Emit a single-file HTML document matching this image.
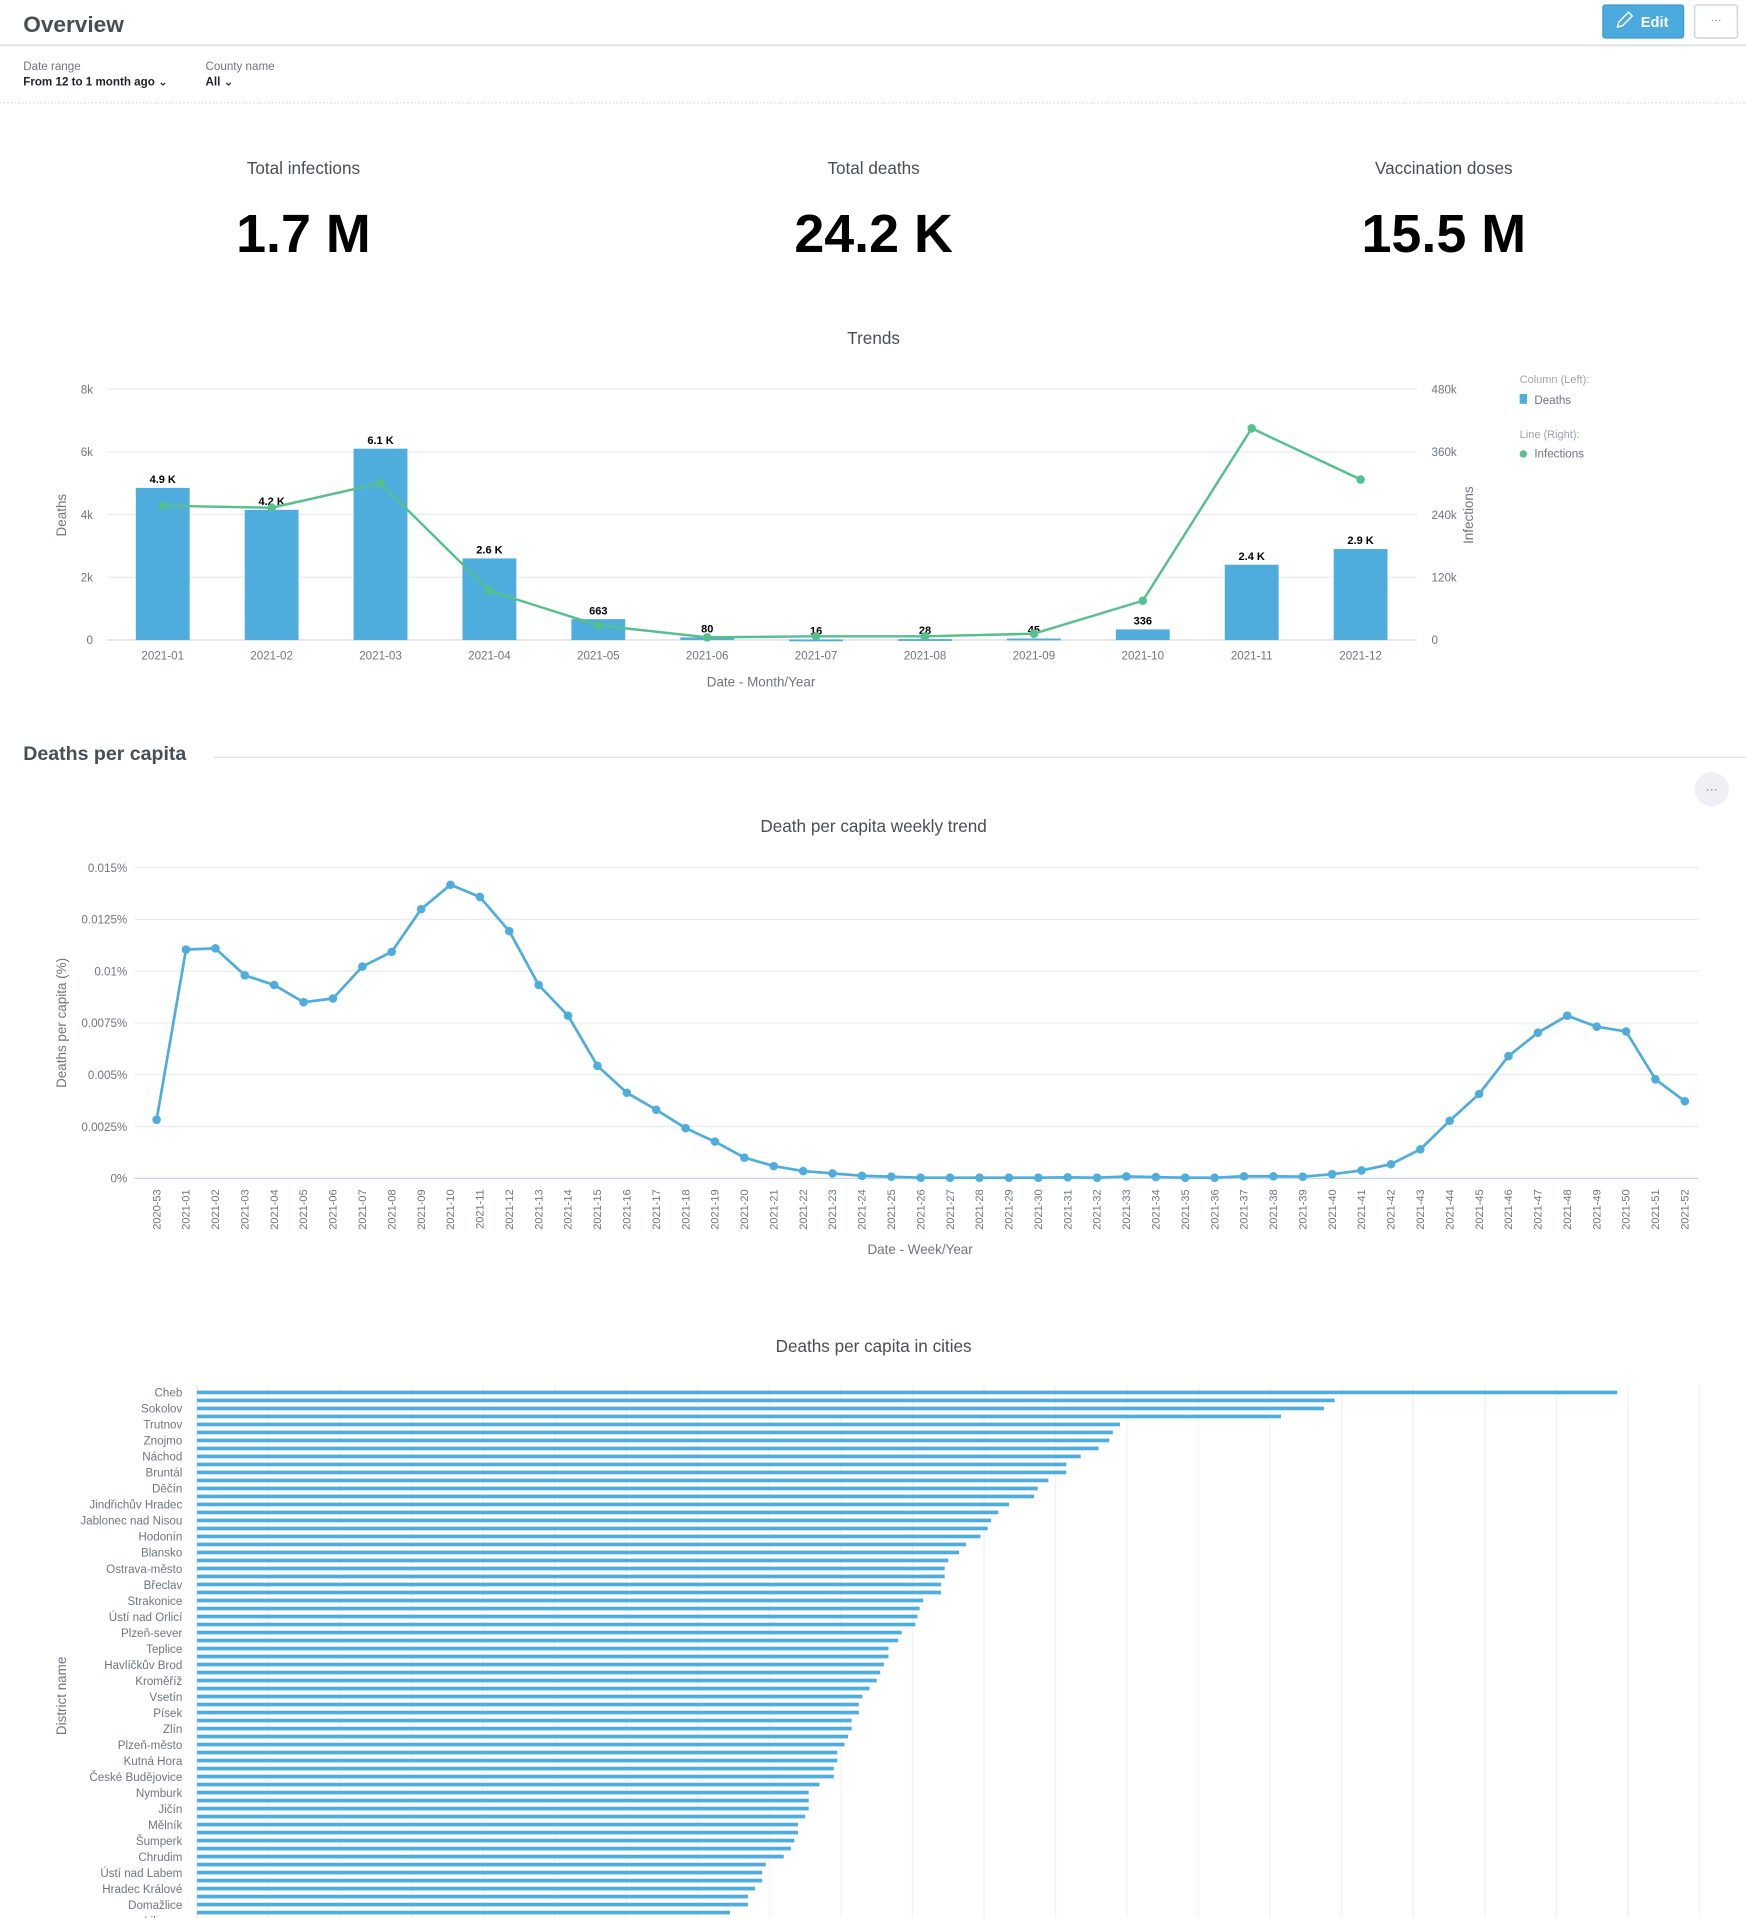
<!DOCTYPE html>
<html><head><meta charset="utf-8"><style>
html,body{margin:0;padding:0;background:#fff;width:1746px;height:1918px;overflow:hidden}
svg text{font-family:"Liberation Sans","DejaVu Sans",sans-serif}
</style></head><body>
<svg id="root" width="1746" height="1918" viewBox="0 0 1427 1567.5" xmlns="http://www.w3.org/2000/svg">
<g>
<text x="19" y="26" font-size="18.5" font-weight="bold" fill="#464e56">Overview</text>
<line x1="0" y1="37" x2="1427" y2="37" stroke="#dde1e5" stroke-width="1.5"/>
<g><rect x="1310" y="4" width="66" height="27" rx="2" fill="#4aaadd" stroke="#3b9bcf"/>
<path d="M1322 22 l1 -4 l8 -8 l3 3 l-8 8 z" fill="none" stroke="#fff" stroke-width="1.2"/>
<text x="1341" y="22" font-size="12" font-weight="bold" fill="#fff">Edit</text></g>
<g><rect x="1385" y="4" width="35" height="27" rx="2" fill="#fff" stroke="#ccd3da" stroke-width="1.2"/>
<text x="1402.5" y="19" font-size="9" fill="#6d7680" text-anchor="middle">···</text></g>
</g>
<g>
<text x="19" y="57" font-size="9.5" fill="#6d7680">Date range</text>
<text x="19" y="70" font-size="9.5" font-weight="bold" fill="#1e2329">From 12 to 1 month ago ⌄</text>
<text x="168" y="57" font-size="9.5" fill="#6d7680">County name</text>
<text x="168" y="70" font-size="9.5" font-weight="bold" fill="#1e2329">All ⌄</text>
<line x1="0" y1="84" x2="1427" y2="84" stroke="#c9cfd5" stroke-width="1" stroke-dasharray="1,2"/>
</g>
<g>
<text x="248" y="142" font-size="14" fill="#464e56" text-anchor="middle">Total infections</text>
<text x="248" y="206" font-size="44" font-weight="bold" fill="#000" text-anchor="middle">1.7 M</text>
<text x="714" y="142" font-size="14" fill="#464e56" text-anchor="middle">Total deaths</text>
<text x="714" y="206" font-size="44" font-weight="bold" fill="#000" text-anchor="middle">24.2 K</text>
<text x="1180" y="142" font-size="14" fill="#464e56" text-anchor="middle">Vaccination doses</text>
<text x="1180" y="206" font-size="44" font-weight="bold" fill="#000" text-anchor="middle">15.5 M</text>
</g>
<g id="c1"></g>
<g>
<text x="19" y="621" font-size="16" font-weight="bold" fill="#464e56">Deaths per capita</text>
<line x1="175" y1="619" x2="1427" y2="619" stroke="#dde1e5"/>
<g><circle cx="1399" cy="645" r="14" fill="#eef0f3"/><text x="1399" y="648" font-size="10" fill="#6d7680" text-anchor="middle">···</text></g>
</g>
<g id="c2"></g>
<g id="c3"></g>
</svg>
<script>
// ---- Chart 1 data
const months=["2021-01","2021-02","2021-03","2021-04","2021-05","2021-06","2021-07","2021-08","2021-09","2021-10","2021-11","2021-12"];
const deaths=[4850,4150,6100,2600,663,80,16,28,45,336,2400,2900];
const deathLabels=["4.9 K","4.2 K","6.1 K","2.6 K","663","80","16","28","45","336","2.4 K","2.9 K"];
const infections=[257000,253000,300000,94000,28000,5000,7000,7000,12000,75000,405000,307000];
const leftTicks=[0,2000,4000,6000,8000];
const leftTickLabels=["0","2k","4k","6k","8k"];
const rightTickLabels=["0","120k","240k","360k","480k"];
// ---- Chart 2 data
const weeks=["2020-53"];for(let i=1;i<=52;i++)weeks.push("2021-"+String(i).padStart(2,"0"));
const perCapita=[0.00283,0.01104,0.0111,0.0098,0.00933,0.0085,0.00868,0.01022,0.01093,0.01299,0.01417,0.01358,0.01193,0.00933,0.00785,0.00543,0.00413,0.00331,0.00242,0.00177,0.001,0.00059,0.00035,0.00024,0.00012,0.00008,0.00003,0.00003,0.00003,0.00003,0.00003,0.00005,0.00003,0.00009,0.00006,0.00003,0.00003,0.0001,0.0001,0.00008,0.0002,0.00038,0.00068,0.0014,0.00278,0.00407,0.0059,0.00703,0.00785,0.00732,0.00709,0.00478,0.00372];
const pcTicks=[0,0.0025,0.005,0.0075,0.01,0.0125,0.015];
const pcTickLabels=["0%","0.0025%","0.005%","0.0075%","0.01%","0.0125%","0.015%"];
// ---- Chart 3 data
const districts=["Cheb","Tachov","Sokolov","Karviná","Trutnov","Rychnov nad Kněžnou","Znojmo","Semily","Náchod","Svitavy","Bruntál","Opava","Děčín","Louny","Jindřichův Hradec","Kolín","Jablonec nad Nisou","Benešov","Hodonín","Prachatice","Blansko","Frýdek-Místek","Ostrava-město","Olomouc","Břeclav","Uherské Hradiště","Strakonice","Prostějov","Ústí nad Orlicí","Vyškov","Plzeň-sever","Klatovy","Teplice","Most","Havlíčkův Brod","Žďár nad Sázavou","Kroměříž","Přerov","Vsetín","Třebíč","Písek","Pelhřimov","Zlín","Brno-venkov","Plzeň-město","Tábor","Kutná Hora","Rokycany","České Budějovice","Jeseník","Nymburk","Litoměřice","Jičín","Kladno","Mělník","Příbram","Šumperk","Beroun","Chrudim","Chomutov","Ústí nad Labem","Pardubice","Hradec Králové","Karlovy Vary","Domažlice","Nový Jičín","Liberec"];
const cityValues=[0.397,0.318,0.315,0.303,0.258,0.256,0.255,0.252,0.247,0.243,0.243,0.238,0.235,0.234,0.227,0.224,0.222,0.221,0.219,0.215,0.213,0.210,0.209,0.209,0.208,0.208,0.203,0.202,0.2014,0.2008,0.197,0.196,0.1933,0.1933,0.192,0.191,0.190,0.188,0.186,0.185,0.185,0.183,0.183,0.182,0.181,0.179,0.179,0.178,0.178,0.174,0.171,0.171,0.171,0.170,0.168,0.168,0.167,0.166,0.164,0.159,0.158,0.158,0.156,0.154,0.154,0.149,0.147];
const cityMax=0.42, cityStep=0.02;

const NS="http://www.w3.org/2000/svg";
function mk(parent,tag,attrs,text){const e=document.createElementNS(NS,tag);for(const k in attrs)e.setAttribute(k,attrs[k]);if(text!==undefined)e.textContent=text;parent.appendChild(e);return e;}
const GRID="#e9ecef",TXT="#6d7680",BLUE="#4eaddc",GREEN="#55c08c",TITLE="#464e56";

// ===== Chart 1
(function(){
const g=document.getElementById("c1");
const x0=87,x1=1158,yB=523,yT=318;
const firstC=133,band=89;
const xc=i=>firstC+i*band;
const yL=v=>yB-(v/8000)*(yB-yT);
const yR=v=>yB-(v/480000)*(yB-yT);
let t=mk(g,"text",{x:714,y:281,"font-size":14,fill:TITLE,"text-anchor":"middle"},"Trends");


leftTicks.forEach((v,i)=>{
 const y=yL(v);
 mk(g,"line",{x1:x0,x2:x1,y1:y,y2:y,stroke:i===0?"#d5d9de":GRID,"stroke-width":1});
 const a=mk(g,"text",{x:76,y:y+3.5,"font-size":9.5,fill:TXT,"text-anchor":"end"},leftTickLabels[i]);
 
 
 const b=mk(g,"text",{x:1170,y:y+3.5,"font-size":9.5,fill:TXT},rightTickLabels[i]);
 
 
});
months.forEach((m,i)=>{
 const cx=xc(i),y=yL(deaths[i]);
 const r=mk(g,"rect",{x:cx-22,y:y,width:44,height:Math.max(yB-y,1.5),fill:BLUE});
 
 
 const l=mk(g,"text",{x:cx,y:y-4,"font-size":9,"font-weight":"bold",fill:"#000","text-anchor":"middle"},deathLabels[i]);
 
 
 const xl=mk(g,"text",{x:cx,y:539,"font-size":9.5,fill:TXT,"text-anchor":"middle"},m);
 
 
});
const pts=infections.map((v,i)=>xc(i)+","+yR(v)).join(" ");
const pl=mk(g,"polyline",{points:pts,fill:"none",stroke:GREEN,"stroke-width":2});


infections.forEach((v,i)=>{
 const c=mk(g,"circle",{cx:xc(i),cy:yR(v),r:3.5,fill:GREEN});
 
 
});
t=mk(g,"text",{x:622,y:561,"font-size":11,fill:TXT,"text-anchor":"middle"},"Date - Month/Year");


t=mk(g,"text",{x:0,y:0,"font-size":11,fill:TXT,"text-anchor":"middle",transform:"translate(54,421) rotate(-90)"},"Deaths");


t=mk(g,"text",{x:0,y:0,"font-size":11,fill:TXT,"text-anchor":"middle",transform:"translate(1204,421) rotate(-90)"},"Infections");


t=mk(g,"text",{x:1242,y:313,"font-size":9,fill:"#9aa3ad"},"Column (Left):");


const le1=mk(g,"g",{});


mk(le1,"rect",{x:1242,y:322,width:6,height:8,fill:BLUE});
mk(le1,"text",{x:1254,y:330,"font-size":9.5,fill:TXT},"Deaths");
t=mk(g,"text",{x:1242,y:358,"font-size":9,fill:"#9aa3ad"},"Line (Right):");


const le2=mk(g,"g",{});


mk(le2,"circle",{cx:1245,cy:371,r:3,fill:GREEN});
mk(le2,"text",{x:1254,y:374,"font-size":9.5,fill:TXT},"Infections");
})();

// ===== Chart 2
(function(){
const g=document.getElementById("c2");
const gx0=90,gx1=1388,yB=963,yT=709,px0=128,px1=1377;
const x=i=>px0+i*(px1-px0)/(weeks.length-1);
const y=v=>yB-(v/0.015)*(yB-yT);
let t=mk(g,"text",{x:714,y:680,"font-size":14,fill:TITLE,"text-anchor":"middle"},"Death per capita weekly trend");


pcTicks.forEach((v,i)=>{
 const yy=y(v);
 mk(g,"line",{x1:gx0+20,x2:gx1,y1:yy,y2:yy,stroke:i===0?"#c6d0e6":GRID,"stroke-width":1});
 const a=mk(g,"text",{x:104,y:yy+3.5,"font-size":9.5,fill:TXT,"text-anchor":"end"},pcTickLabels[i]);
 
 
});
weeks.forEach((w,i)=>{
 const a=mk(g,"text",{x:0,y:0,"font-size":9,fill:TXT,"text-anchor":"end",transform:`translate(${x(i)+3},972) rotate(-90)`},w);
 
 
});
const pl=mk(g,"polyline",{points:perCapita.map((v,i)=>x(i)+","+y(v)).join(" "),fill:"none",stroke:BLUE,"stroke-width":2.2});


perCapita.forEach((v,i)=>{
 const c=mk(g,"circle",{cx:x(i),cy:y(v),r:3.5,fill:BLUE});
 
 
});
t=mk(g,"text",{x:752,y:1025,"font-size":11,fill:TXT,"text-anchor":"middle"},"Date - Week/Year");


t=mk(g,"text",{x:0,y:0,"font-size":11,fill:TXT,"text-anchor":"middle",transform:"translate(54,836) rotate(-90)"},"Deaths per capita (%)");


})();

// ===== Chart 3
(function(){
const g=document.getElementById("c3");
const x0=161,x1=1389,yTop=1132,step=6.54,firstY=1138;
const x=v=>x0+(v/cityMax)*(x1-x0);
let t=mk(g,"text",{x:714,y:1105,"font-size":14,fill:TITLE,"text-anchor":"middle"},"Deaths per capita in cities");


for(let v=0;v<=cityMax+1e-9;v+=cityStep){
 const xx=x(v);
 mk(g,"line",{x1:xx,x2:xx,y1:yTop,y2:1568,stroke:v===0?"#dfe3e8":"#eff1f3","stroke-width":1});
}
districts.forEach((d,i)=>{
 const yy=firstY+i*step;
 const r=mk(g,"rect",{x:x0,y:yy-1.5,width:x(cityValues[i])-x0,height:3,fill:BLUE});
 
 
 if(i%2===0){
  const l=mk(g,"text",{x:149,y:yy+3.5,"font-size":9.5,fill:TXT,"text-anchor":"end"},d);
  
  
 }
});
t=mk(g,"text",{x:0,y:0,"font-size":11,fill:TXT,"text-anchor":"middle",transform:"translate(54,1386) rotate(-90)"},"District name");


})();
</script>
</body></html>
